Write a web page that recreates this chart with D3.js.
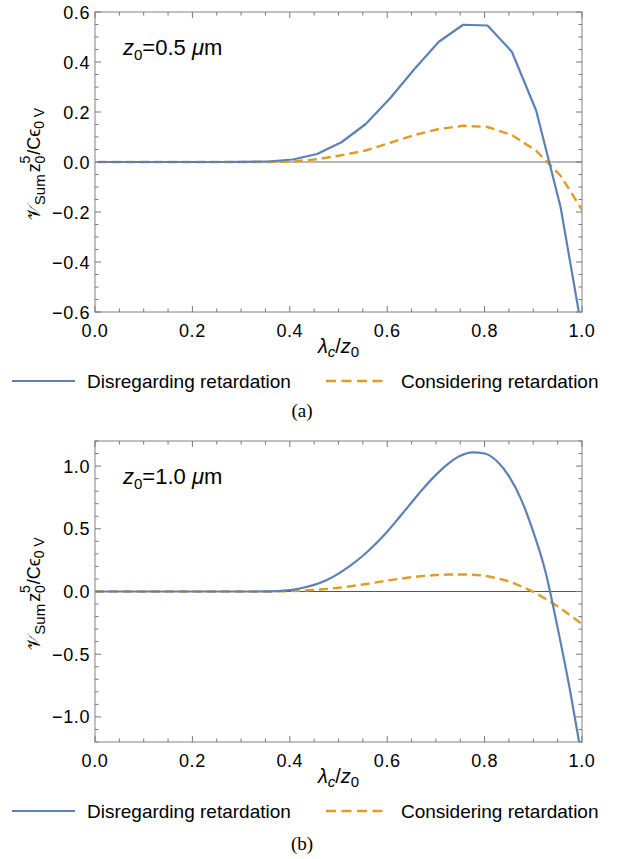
<!DOCTYPE html>
<html><head><meta charset="utf-8">
<script src="https://cdn.jsdelivr.net/npm/d3@7"></script>
<style>
body{margin:0;background:#fff}
svg{display:block}
text{font-family:"Liberation Sans",Arial,Helvetica,sans-serif;fill:#000}
</style>
</head><body>
<svg id="c" width="623" height="859"></svg>
<script>
// ---------- data ----------
const xMajor = [0, 0.2, 0.4, 0.6, 0.8, 1.0];
const xTickLabels = ["0.0", "0.2", "0.4", "0.6", "0.8", "1.0"];

const yMajorA = [-0.6, -0.4, -0.2, 0, 0.2, 0.4, 0.6];
const yTickLabelsA = ["\u22120.6", "\u22120.4", "\u22120.2", "0.0", "0.2", "0.4", "0.6"];
const yMajorB = [-1.0, -0.5, 0, 0.5, 1.0];
const yTickLabelsB = ["\u22121.0", "\u22120.5", "0.0", "0.5", "1.0"];

const seriesNames = ["Disregarding retardation", "Considering retardation"];

// panel (a): z0 = 0.5 um (coarse sampling)
const xA = [0.006, 0.056, 0.106, 0.156, 0.206, 0.256, 0.306, 0.356, 0.406, 0.456, 0.506,
            0.556, 0.606, 0.656, 0.706, 0.756, 0.806, 0.856, 0.906, 0.956, 1.006];
const disregardA = [0, 0, 0, 0, 0, 0, 0.0005, 0.002, 0.010, 0.032, 0.079,
                    0.152, 0.255, 0.372, 0.481, 0.549, 0.546, 0.441, 0.205, -0.180, -0.740];
const considerA = [0, 0, 0, 0, 0, 0, 0, 0, 0.002, 0.011, 0.027,
                   0.046, 0.077, 0.108, 0.132, 0.145, 0.140, 0.108, 0.045, -0.055, -0.210];

// panel (b): z0 = 1.0 um (fine sampling)
const xB = [0, 0.025, 0.05, 0.075, 0.1, 0.125, 0.15, 0.175, 0.2, 0.225, 0.25, 0.275, 0.3, 0.325,
            0.35, 0.375, 0.4, 0.425, 0.45, 0.475, 0.5, 0.525, 0.55, 0.575, 0.6, 0.625, 0.65, 0.675,
            0.7, 0.725, 0.75, 0.775, 0.8, 0.825, 0.85, 0.875, 0.9, 0.925, 0.95, 0.975, 1.0];
const disregardB = [0, 0, 0, 0, 0, 0, 0, 0, 0, 0, 0, 0, 0, 0,
                    0.001, 0.003, 0.011, 0.028, 0.053, 0.090, 0.143, 0.208, 0.285, 0.375, 0.477, 0.592, 0.710, 0.825,
                    0.930, 1.018, 1.082, 1.110, 1.100, 1.040, 0.920, 0.735, 0.475, 0.158, -0.290, -0.780, -1.330];
const considerB = [0, 0, 0, 0, 0, 0, 0, 0, 0, 0, 0, 0, 0, 0,
                   0, 0.001, 0.003, 0.007, 0.013, 0.020, 0.030, 0.042, 0.056, 0.071, 0.087, 0.101, 0.114, 0.124,
                   0.131, 0.135, 0.136, 0.134, 0.125, 0.106, 0.080, 0.042, -0.003, -0.058, -0.120, -0.188, -0.260];

// ---------- drawing ----------
const svg = d3.select("#c");
const BLUE = "#5E81B5", ORANGE = "#E19C24";

function panel(opt) {
  const {top, bottom, yDomain, yMajor, yLabels, yMinorCount, xs, s1, s2, zeroColor, zeroWidth,
         annot, legendY, caption, captionY, id, curve} = opt;
  const left = 95, right = 582;
  const x = d3.scaleLinear().domain([0, 1]).range([left, right]);
  const y = d3.scaleLinear().domain(yDomain).range([bottom, top]);
  const g = svg.append("g");

  g.append("clipPath").attr("id", id).append("rect")
    .attr("x", left).attr("y", top).attr("width", right - left).attr("height", bottom - top);

  // zero line
  g.append("line").attr("x1", left).attr("x2", right).attr("y1", y(0)).attr("y2", y(0))
    .attr("stroke", zeroColor).attr("stroke-width", zeroWidth);

  // curves
  const pts1 = xs.map((v, i) => [v, s1[i]]);
  const pts2 = xs.map((v, i) => [v, s2[i]]);
  const line = d3.line().x(d => x(d[0])).y(d => y(d[1])).curve(curve);
  const cg = g.append("g").attr("clip-path", `url(#${id})`);
  cg.append("path").attr("d", line(pts2)).attr("fill", "none").attr("stroke", ORANGE)
    .attr("stroke-width", 2.4).attr("stroke-dasharray", "9,5").attr("stroke-linejoin", "round");
  cg.append("path").attr("d", line(pts1)).attr("fill", "none").attr("stroke", BLUE)
    .attr("stroke-width", 2.2).attr("stroke-linejoin", "round");

  // frame
  g.append("rect").attr("x", left).attr("y", top).attr("width", right - left).attr("height", bottom - top)
    .attr("fill", "none").attr("stroke", "#a0a0a0").attr("stroke-width", 1.3);

  // ticks
  const tk = g.append("g").attr("stroke", "#777").attr("stroke-width", 1);
  const xMinor = x.ticks(20);
  xMinor.forEach(v => {
    const isMaj = xMajor.some(m => Math.abs(m - v) < 1e-9);
    const L = isMaj ? 6 : 3.5;
    tk.append("line").attr("x1", x(v)).attr("x2", x(v)).attr("y1", bottom).attr("y2", bottom - L);
    tk.append("line").attr("x1", x(v)).attr("x2", x(v)).attr("y1", top).attr("y2", top + L);
  });
  const yMinor = y.ticks(yMinorCount);
  yMinor.forEach(v => {
    const isMaj = yMajor.some(m => Math.abs(m - v) < 1e-9);
    const L = isMaj ? 6 : 3.5;
    tk.append("line").attr("x1", left).attr("x2", left + L).attr("y1", y(v)).attr("y2", y(v));
    tk.append("line").attr("x1", right).attr("x2", right - L).attr("y1", y(v)).attr("y2", y(v));
  });

  // tick labels
  xMajor.forEach((v, i) => {
    g.append("text").attr("x", x(v)).attr("y", bottom + 25).attr("text-anchor", "middle")
      .style("font-size", "18px").style("letter-spacing", "0.6px").text(xTickLabels[i]);
  });
  yMajor.forEach((v, i) => {
    g.append("text").attr("x", left - 5).attr("y", y(v) + 6.5).attr("text-anchor", "end")
      .style("font-size", "18px").style("letter-spacing", "0.6px").text(yLabels[i]);
  });

  // x label
  const xl = g.append("text").attr("x", (left + right) / 2).attr("y", bottom + 41)
    .attr("text-anchor", "middle").style("font-size", "20px");
  xl.append("tspan").style("font-style", "italic").text("\u03BB");
  xl.append("tspan").attr("dy", 4).style("font-size", "15px").style("font-style", "italic").text("c");
  xl.append("tspan").attr("dy", -4).text("/");
  xl.append("tspan").style("font-style", "italic").text("z");
  xl.append("tspan").attr("dy", 4).style("font-size", "15px").text("0");

  // y label
  const cy = (top + bottom) / 2 + 2;
  const yl = g.append("text").attr("transform", `translate(40,${cy}) rotate(-90)`)
    .attr("text-anchor", "middle").style("font-size", "18px");
  yl.append("tspan").style("font-family", "'DejaVu Sans'").text("\uD835\uDCB1");
  yl.append("tspan").attr("dy", 5).style("font-size", "15px").text("Sum");
  yl.append("tspan").attr("dx", 2).attr("dy", -5).text("z");
  yl.append("tspan").attr("dy", 5).style("font-size", "14px").text("0");
  yl.append("tspan").attr("dx", -8).attr("dy", -15).style("font-size", "14px").text("5");
  yl.append("tspan").attr("dx", 1).attr("dy", 10).text("/C\u03F5");
  yl.append("tspan").attr("dy", 4).style("font-size", "14px").text("0 V");

  // annotation
  const an = g.append("text").attr("x", 123).attr("y", top + 43).style("font-size", "22px");
  an.append("tspan").style("font-style", "italic").text("z");
  an.append("tspan").attr("dy", 5).style("font-size", "15px").text("0");
  an.append("tspan").attr("dy", -5).text("=" + annot + " ");
  an.append("tspan").style("font-style", "italic").text("\u03BC");
  an.append("tspan").text("m");

  // legend
  g.append("line").attr("x1", 12).attr("x2", 75).attr("y1", legendY).attr("y2", legendY)
    .attr("stroke", BLUE).attr("stroke-width", 2.2);
  g.append("text").attr("x", 87).attr("y", legendY + 7).style("font-size", "19px").text(seriesNames[0]);
  g.append("line").attr("x1", 326).attr("x2", 388).attr("y1", legendY).attr("y2", legendY)
    .attr("stroke", ORANGE).attr("stroke-width", 2.4).attr("stroke-dasharray", "10,5.5");
  g.append("text").attr("x", 401).attr("y", legendY + 7).style("font-size", "19px").text(seriesNames[1]);

  // caption
  g.append("text").attr("x", 302).attr("y", captionY).attr("text-anchor", "middle")
    .style("font-family", "'Liberation Serif','Times New Roman',serif").style("font-size", "19px").text(caption);
}

panel({top: 12, bottom: 312, yDomain: [-0.6, 0.6], yMajor: yMajorA, yLabels: yTickLabelsA, yMinorCount: 24,
       xs: xA, s1: disregardA, s2: considerA, zeroColor: "#a0a0a0", zeroWidth: 1.6,
       annot: "0.5", legendY: 381, caption: "(a)", captionY: 417, id: "clipA", curve: d3.curveLinear});
panel({top: 441, bottom: 742, yDomain: [-1.2, 1.2], yMajor: yMajorB, yLabels: yTickLabelsB, yMinorCount: 24,
       xs: xB, s1: disregardB, s2: considerB, zeroColor: "#555", zeroWidth: 1,
       annot: "1.0", legendY: 811, caption: "(b)", captionY: 850, id: "clipB", curve: d3.curveMonotoneX});
</script>
</body></html>
